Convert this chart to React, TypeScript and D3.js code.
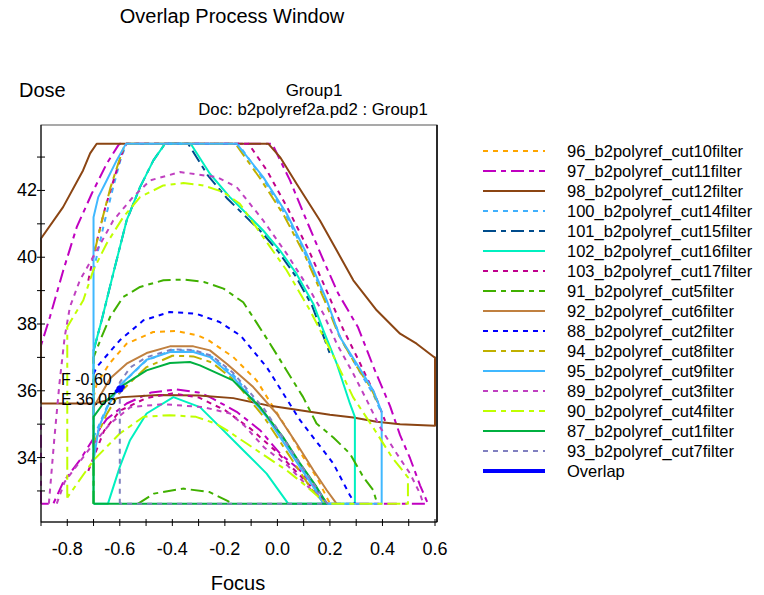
import React, { useEffect, useRef } from "react";
import * as d3 from "d3";

type Pt = [number, number];

// axis ticks
const focusTicks = [-0.8, -0.7, -0.6, -0.5, -0.4, -0.3, -0.2, -0.1, 0, 0.1, 0.2, 0.3, 0.4, 0.5, 0.6];
const focusLabels = [-0.8, -0.6, -0.4, -0.2, 0, 0.2, 0.4, 0.6];
const doseTicks = [33, 34, 35, 36, 37, 38, 39, 40, 41, 42, 43];
const doseLabels = [34, 36, 38, 40, 42];

// series outlines, [focus, dose]
const cut10: Pt[][] = [
  [[-0.7, 35.8], [-0.688, 36.2], [-0.64, 36.81], [-0.574, 37.41], [-0.473, 37.76], [-0.383, 37.79], [-0.3, 37.65], [-0.26, 37.5], [-0.168, 37.01], [-0.079, 36.31], [-0.016, 35.51], [0.048, 34.72], [0.098, 34.02], [0.149, 33.42], [0.2, 32.62]],
];
const cut11: Pt[][] = [
  [[-0.9, 32.62], [-0.9, 37.36], [-0.866, 38.21], [-0.815, 39.61], [-0.764, 40.9], [-0.707, 41.9], [-0.65, 42.8], [-0.606, 43.35], [-0.6, 43.4], [-0.02, 43.4], [0.048, 42.3], [0.111, 41.1], [0.175, 39.91], [0.231, 38.92], [0.307, 37.9], [0.368, 36.67], [0.429, 35.54], [0.467, 34.67], [0.505, 33.98], [0.543, 33.17], [0.573, 32.62], [0.18, 32.62], [0.149, 33.02], [0.086, 33.62], [0.01, 34.12], [-0.066, 34.82], [-0.155, 35.37], [-0.257, 35.81], [-0.3, 35.95], [-0.384, 36.04], [-0.48, 35.95], [-0.574, 35.62], [-0.65, 35.15], [-0.69, 34.7], [-0.752, 33.92], [-0.815, 33.27], [-0.853, 32.62], [-0.9, 32.62]],
];
const cut12: Pt[][] = [
  [[-0.9, 35.62], [-0.9, 40.56], [-0.816, 41.5], [-0.74, 42.6], [-0.713, 43.11], [-0.688, 43.4], [-0.035, 43.4], [0.01, 43.0], [0.073, 42.2], [0.162, 41.1], [0.226, 40.2], [0.289, 39.31], [0.378, 38.41], [0.467, 37.71], [0.53, 37.41], [0.596, 37.01], [0.6, 37.0], [0.6, 34.95], [0.467, 35.0], [0.378, 35.07], [0.289, 35.2], [0.2, 35.28], [0.086, 35.42], [-0.041, 35.57], [-0.168, 35.78], [-0.3, 35.86], [-0.45, 35.87], [-0.59, 35.81], [-0.7, 35.62], [-0.9, 35.62]],
];
const cut14: Pt[][] = [
  [[-0.7, 39.6], [-0.66, 41.0], [-0.625, 42.1], [-0.598, 42.9], [-0.575, 43.4], [-0.15, 43.4], [-0.05, 42.3], [0.04, 41.15], [0.115, 39.95], [0.19, 38.6], [0.245, 37.5], [0.315, 36.55], [0.365, 35.9], [0.39, 35.45]],
  [[-0.7, 34.6], [-0.65, 35.5], [-0.6, 36.15], [-0.5, 36.9], [-0.4, 37.22], [-0.32, 37.2], [-0.25, 37.02], [-0.17, 36.5], [-0.05, 35.35], [0.05, 34.2], [0.13, 33.25], [0.185, 32.62]],
];
const cut15: Pt[][] = [
  [[-0.7, 37.2], [-0.669, 38.11], [-0.625, 39.51], [-0.574, 41.1], [-0.523, 42.1], [-0.472, 42.9], [-0.428, 43.4], [-0.34, 43.4], [-0.265, 42.45], [-0.19, 41.75], [-0.125, 41.25], [-0.06, 40.75], [0.005, 40.15], [0.068, 39.45], [0.132, 38.55], [0.17, 37.75], [0.205, 37.0]],
];
const cut16: Pt[][] = [
  [[-0.7, 32.62], [-0.7, 37.2], [-0.669, 38.11], [-0.625, 39.51], [-0.574, 41.1], [-0.523, 42.1], [-0.472, 42.9], [-0.428, 43.4], [-0.33, 43.4], [-0.257, 42.5], [-0.181, 41.8], [-0.117, 41.3], [-0.054, 40.8], [0.01, 40.2], [0.073, 39.5], [0.137, 38.6], [0.175, 37.81], [0.226, 36.81], [0.276, 35.62], [0.295, 35.22], [0.295, 32.62], [0.041, 32.62], [-0.041, 33.52], [-0.13, 34.22], [-0.219, 34.92], [-0.295, 35.51], [-0.396, 35.81], [-0.498, 35.32], [-0.561, 34.52], [-0.6, 33.72], [-0.645, 32.62], [-0.7, 32.62]],
];
const cut17: Pt[][] = [
  [[-0.72, 39.3], [-0.69, 40.4], [-0.655, 41.5], [-0.62, 42.4], [-0.592, 43.1], [-0.575, 43.4], [-0.11, 43.4], [-0.04, 42.6], [0.04, 41.45], [0.12, 40.2], [0.19, 38.95], [0.25, 37.85], [0.31, 36.9], [0.37, 35.9], [0.41, 35.1]],
  [[-0.72, 33.6], [-0.66, 34.8], [-0.6, 35.4], [-0.5, 35.78], [-0.4, 35.92], [-0.3, 35.8], [-0.2, 35.42], [-0.1, 34.85], [0.0, 34.15], [0.1, 33.35], [0.17, 32.8], [0.195, 32.62]],
];
const cut5: Pt[][] = [
  [[-0.7, 32.62], [-0.7, 37.0], [-0.67, 37.6], [-0.637, 38.21], [-0.587, 38.81], [-0.523, 39.11], [-0.434, 39.31], [-0.358, 39.33], [-0.28, 39.26], [-0.205, 39.06], [-0.13, 38.65], [-0.08, 38.05], [-0.028, 37.41], [0.035, 36.61], [0.098, 35.81], [0.149, 35.02], [0.213, 34.6], [0.276, 34.12], [0.327, 33.42], [0.365, 33.02], [0.38, 32.62]],
  [[-0.53, 32.62], [-0.47, 32.92], [-0.36, 33.07], [-0.26, 32.97], [-0.19, 32.7], [-0.17, 32.62]],
];
const cut6: Pt[][] = [
  [[-0.7, 35.51], [-0.637, 36.37], [-0.574, 36.81], [-0.498, 37.13], [-0.409, 37.33], [-0.32, 37.33], [-0.257, 37.21], [-0.193, 36.81], [-0.092, 36.11], [-0.003, 35.32], [0.073, 34.42], [0.137, 33.62], [0.188, 33.02], [0.225, 32.62]],
];
const cut2: Pt[][] = [
  [[-0.7, 36.5], [-0.688, 36.71], [-0.6, 37.51], [-0.51, 38.11], [-0.41, 38.36], [-0.31, 38.31], [-0.22, 38.06], [-0.14, 37.65], [-0.041, 36.71], [0.086, 35.12], [0.213, 33.82], [0.276, 32.87], [0.295, 32.62]],
];
const cut8: Pt[][] = [
  [[-0.695, 40.2], [-0.665, 41.2], [-0.635, 42.1], [-0.6, 42.95], [-0.58, 43.4], [-0.16, 43.4], [-0.065, 42.35], [0.025, 41.25], [0.105, 40.05], [0.18, 38.7], [0.235, 37.65], [0.3, 36.75], [0.355, 36.1], [0.385, 35.6]],
  [[-0.7, 34.4], [-0.65, 35.3], [-0.6, 35.95], [-0.5, 36.7], [-0.4, 37.05], [-0.32, 37.03], [-0.25, 36.85], [-0.17, 36.35], [-0.05, 35.2], [0.05, 34.0], [0.13, 33.05], [0.18, 32.62]],
];
const cut9: Pt[][] = [
  [[-0.7, 33.9], [-0.7, 41.2], [-0.682, 41.8], [-0.65, 42.3], [-0.612, 42.9], [-0.58, 43.35], [-0.575, 43.4], [-0.155, 43.4], [-0.054, 42.4], [0.035, 41.31], [0.111, 40.11], [0.188, 38.71], [0.238, 37.61], [0.314, 36.66], [0.365, 36.01], [0.397, 35.37], [0.397, 32.62], [0.175, 32.62], [0.137, 33.12], [0.06, 34.02], [-0.041, 35.22], [-0.168, 36.41], [-0.257, 37.01], [-0.32, 37.16], [-0.409, 37.16], [-0.498, 36.93], [-0.6, 36.16], [-0.645, 35.55], [-0.68, 34.9], [-0.7, 33.9]],
];
const cut3: Pt[][] = [
  [[-0.87, 32.62], [-0.85, 34.5], [-0.83, 36.2], [-0.81, 37.6], [-0.79, 38.51], [-0.752, 39.31], [-0.688, 40.2], [-0.625, 41.1], [-0.55, 41.8], [-0.485, 42.3], [-0.371, 42.55], [-0.231, 42.4], [-0.155, 42.1], [-0.054, 41.1], [0.035, 40.11], [0.124, 39.01], [0.175, 38.31], [0.226, 37.41], [0.289, 36.51], [0.34, 35.72], [0.39, 34.92], [0.454, 34.12], [0.505, 33.52], [0.543, 32.92], [0.555, 32.62]],
  [[-0.84, 32.62], [-0.81, 33.27], [-0.7, 34.42], [-0.636, 35.02], [-0.56, 35.51], [-0.434, 35.6], [-0.282, 35.51], [-0.18, 35.32], [-0.125, 34.95], [-0.05, 34.3], [0.04, 33.75], [0.12, 33.1], [0.19, 32.62]],
];
const cut4: Pt[][] = [
  [[-0.8, 32.8], [-0.8, 37.91], [-0.739, 38.71], [-0.701, 39.61], [-0.65, 40.41], [-0.587, 41.2], [-0.523, 41.8], [-0.434, 42.15], [-0.358, 42.22], [-0.282, 42.15], [-0.206, 41.95], [-0.143, 41.6], [-0.054, 40.6], [0.035, 39.61], [0.124, 38.41], [0.212, 37.06], [0.288, 35.81], [0.371, 34.82], [0.436, 34.01], [0.497, 33.41], [0.497, 32.62], [0.19, 32.62], [0.16, 32.8], [0.098, 33.22], [0.035, 33.62], [-0.041, 34.02], [-0.117, 34.42], [-0.193, 34.82], [-0.235, 35.02], [-0.31, 35.22], [-0.41, 35.27], [-0.51, 35.22], [-0.6, 34.72], [-0.7, 33.92], [-0.8, 32.8]],
];
const cut1: Pt[][] = [
  [[-0.7, 32.62], [-0.7, 35.22], [-0.663, 35.62], [-0.588, 36.16], [-0.498, 36.61], [-0.409, 36.83], [-0.333, 36.86], [-0.295, 36.76], [-0.169, 36.31], [-0.066, 35.51], [0.021, 34.62], [0.086, 33.83], [0.149, 33.12], [0.188, 32.62], [-0.7, 32.62]],
];
const cut7: Pt[][] = [
  [[-0.6, 32.62], [-0.6, 36.25], [-0.56, 36.7], [-0.5, 37.0], [-0.4, 37.24], [-0.32, 37.22], [-0.25, 37.05], [-0.17, 36.55], [-0.05, 35.45], [0.05, 34.25], [0.13, 33.3], [0.19, 32.62], [-0.6, 32.62]],
];
const overlap: Pt[][] = [[[-0.612, 35.99], [-0.588, 36.12]]];
const overlapPoint: Pt = [-0.6, 36.05];

const DOT = "5,5";
const DASHDOT = "13,5,5,5";

const series = [
  { name: "96_b2polyref_cut10filter", color: "#FFA500", dash: DOT, paths: cut10 },
  { name: "97_b2polyref_cut11filter", color: "#C000C0", dash: DASHDOT, paths: cut11 },
  { name: "98_b2polyref_cut12filter", color: "#8B4513", dash: null, paths: cut12 },
  { name: "100_b2polyref_cut14filter", color: "#40B0FF", dash: DOT, paths: cut14 },
  { name: "101_b2polyref_cut15filter", color: "#004C8C", dash: DASHDOT, paths: cut15 },
  { name: "102_b2polyref_cut16filter", color: "#00F0C0", dash: null, paths: cut16 },
  { name: "103_b2polyref_cut17filter", color: "#C0008C", dash: DOT, paths: cut17 },
  { name: "91_b2polyref_cut5filter", color: "#40B000", dash: DASHDOT, paths: cut5 },
  { name: "92_b2polyref_cut6filter", color: "#C08040", dash: null, paths: cut6 },
  { name: "88_b2polyref_cut2filter", color: "#0000FF", dash: DOT, paths: cut2 },
  { name: "94_b2polyref_cut8filter", color: "#C0B000", dash: DASHDOT, paths: cut8 },
  { name: "95_b2polyref_cut9filter", color: "#40B8FF", dash: null, paths: cut9 },
  { name: "89_b2polyref_cut3filter", color: "#C040C0", dash: DOT, paths: cut3 },
  { name: "90_b2polyref_cut4filter", color: "#C0FF00", dash: DASHDOT, paths: cut4 },
  { name: "87_b2polyref_cut1filter", color: "#00B040", dash: null, paths: cut1 },
  { name: "93_b2polyref_cut7filter", color: "#8080C0", dash: DOT, paths: cut7 },
];

const FONT = "'Liberation Sans', Arial, sans-serif";

export default function App() {
  const svgRef = useRef<SVGSVGElement>(null);

  useEffect(() => {
    const svg = d3.select(svgRef.current);
    svg.selectAll("*").remove();

    const left = 41, right = 435, top = 125, bottom = 522;
    const x = d3.scaleLinear().domain([-0.9, 0.6]).range([left, right]);
    const y = d3.scaleLinear().domain([32.07, 43.96]).range([bottom, top]);
    const fmt = (v: number, p = 1) => d3.format(`.${p}f`)(v).replace("\u2212", "-");

    svg.append("rect").attr("width", 764).attr("height", 595).attr("fill", "#fff");

    // --- TITLES ---
    const txt = (tx: number, ty: number, s: string, size: number, anchor = "start") =>
      svg.append("text").attr("x", tx).attr("y", ty).attr("text-anchor", anchor)
        .style("font-family", FONT).style("font-size", `${size}px`).style("fill", "#000").text(s);
    txt(232, 23, "Overlap Process Window", 20, "middle");
    txt(19, 97, "Dose", 20);
    txt(314, 96, "Group1", 17, "middle");
    txt(313, 115, "Doc: b2polyref2a.pd2 : Group1", 16.8, "middle");
    txt(238, 590, "Focus", 20, "middle");

    // --- CLIP (a little wider so edge lines show) ---
    svg.append("clipPath").attr("id", "plotclip").append("rect")
      .attr("x", left - 1).attr("y", top).attr("width", right - left + 2).attr("height", bottom - top);

    // --- SERIES ---
    const line = d3.line<Pt>().x((d) => x(d[0])).y((d) => y(d[1]));
    const g = svg.append("g").attr("clip-path", "url(#plotclip)");
    series.forEach((s) => {
      g.append("g").selectAll("path").data(s.paths).join("path")
        .attr("d", (d) => line(d))
        .attr("fill", "none")
        .attr("stroke", s.color)
        .attr("stroke-width", 2)
        .attr("stroke-linejoin", "round")
        .attr("stroke-dasharray", s.dash);
    });

    // --- OVERLAP ---
    g.selectAll("path.ov").data(overlap).join("path").attr("class", "ov")
      .attr("d", (d) => line(d)).attr("fill", "none")
      .attr("stroke", "#0000FF").attr("stroke-width", 4).attr("stroke-linecap", "round");
    g.append("circle").attr("cx", x(overlapPoint[0])).attr("cy", y(overlapPoint[1]))
      .attr("r", 3.5).attr("fill", "#0000FF");
    txt(61, 385, `F ${fmt(overlapPoint[0], 2)}`, 16);
    txt(61, 405, `E ${fmt(overlapPoint[1], 2)}`, 16);

    // --- FRAME / AXES ---
    svg.append("rect").attr("x", left).attr("y", top).attr("width", right - left + 2)
      .attr("height", bottom - top).attr("fill", "none").attr("stroke", "#555");
    svg.append("line").attr("x1", right + 2).attr("x2", right + 2).attr("y1", top).attr("y2", bottom)
      .attr("stroke", "#000").attr("stroke-width", 1.5);
    svg.append("line").attr("x1", left).attr("x2", left).attr("y1", top).attr("y2", bottom + 4).attr("stroke", "#000");
    svg.append("line").attr("x1", left).attr("x2", right + 2).attr("y1", bottom).attr("y2", bottom).attr("stroke", "#000");

    svg.append("g").selectAll("line").data(focusTicks).join("line")
      .attr("x1", (d) => x(d)).attr("x2", (d) => x(d))
      .attr("y1", bottom - 3).attr("y2", bottom + 4).attr("stroke", "#000");
    svg.append("g").selectAll("text").data(focusLabels).join("text")
      .attr("x", (d) => x(d)).attr("y", 555).attr("text-anchor", "middle")
      .style("font-family", FONT).style("font-size", "18px").text((d) => fmt(d));

    svg.append("g").selectAll("line").data(doseTicks).join("line")
      .attr("x1", left - 4).attr("x2", left + 4)
      .attr("y1", (d) => y(d)).attr("y2", (d) => y(d)).attr("stroke", "#000");
    svg.append("g").selectAll("text").data(doseLabels).join("text")
      .attr("x", 37).attr("y", (d) => y(d) + 6).attr("text-anchor", "end")
      .style("font-family", FONT).style("font-size", "18px").text((d) => String(d));

    // --- LEGEND ---
    const legend = [...series.map((s) => ({ name: s.name, color: s.color, dash: s.dash, w: 2 })),
      { name: "Overlap", color: "#0000FF", dash: null, w: 4 }];
    const row = svg.append("g").selectAll("g").data(legend).join("g")
      .attr("transform", (_d, i) => `translate(0,${151 + i * 20})`);
    row.append("line").attr("x1", 483).attr("x2", 545)
      .attr("stroke", (d) => d.color).attr("stroke-width", (d) => d.w)
      .attr("stroke-dasharray", (d) => d.dash);
    row.append("text").attr("x", 567).attr("y", 6)
      .style("font-family", FONT).style("font-size", "16.5px").style("fill", "#000")
      .text((d) => d.name);
  }, []);

  return (
    <svg
      ref={svgRef}
      width="764"
      height="595"
      style={{ position: "absolute", left: 0, top: 0 }}
    ></svg>
  );
}
